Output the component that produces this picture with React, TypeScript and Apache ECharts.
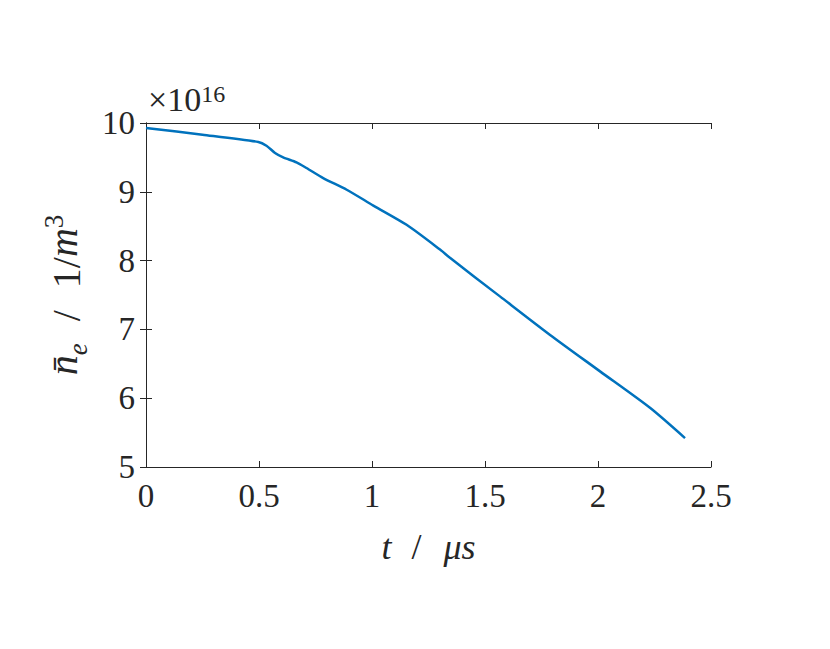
import React, { useEffect, useRef } from "react";
import * as echarts from "echarts";

// time in microseconds
const tValues = [0, 0.25, 0.497, 0.533, 0.571, 0.607, 0.666, 0.71, 0.784, 0.888, 1.006, 1.153, 1.301, 1.345, 1.566, 1.788, 2.009, 2.23, 2.385];
// mean electron density in units of 1e16 m^-3
const nValues = [9.927, 9.83, 9.724, 9.67, 9.564, 9.5, 9.427, 9.346, 9.2, 9.03, 8.8, 8.52, 8.16, 8.04, 7.48, 6.92, 6.39, 5.86, 5.42];
const xTicks = [0, 0.5, 1, 1.5, 2, 2.5];
const yTicks = [5, 6, 7, 8, 9, 10];
const exponentLabel = "16";

const FONT = "'Liberation Serif', 'Times New Roman', 'DejaVu Serif', serif";
const AX = "#262626";

export default function App() {
  const ref = useRef<HTMLDivElement>(null);
  useEffect(() => {
    const chart = echarts.init(ref.current!, null, { renderer: "svg" });
    const data = tValues.map((t, i) => [t, nValues[i]]);
    const axisCommon = {
      axisLine: { show: true, lineStyle: { color: AX, width: 1 } },
      axisTick: { show: true, inside: true, length: 6, lineStyle: { color: AX, width: 1 } },
      splitLine: { show: false },
    };
    chart.setOption({
      animation: false,
      backgroundColor: "#ffffff",
      textStyle: { fontFamily: FONT },
      grid: { left: 146, right: 119, top: 123, bottom: 182, containLabel: false },
      xAxis: [
        {
          type: "value",
          min: 0,
          max: 2.5,
          interval: 0.5,
          ...axisCommon,
          axisLabel: {
            color: AX,
            fontFamily: FONT,
            fontSize: 33,
            margin: 12,
            formatter: (v: number) => (xTicks.includes(v) ? String(v) : ""),
          },
          name: "{i|t}{r|/}{i|μs}",
          nameLocation: "middle",
          nameGap: 62,
          nameTextStyle: {
            color: AX,
            fontFamily: FONT,
            fontSize: 35,
            rich: {
              i: { fontFamily: FONT, fontStyle: "italic", fontSize: 36, color: AX },
              r: { fontFamily: FONT, fontSize: 36, color: AX, padding: [0, 22, 0, 20] },
            },
          },
        },
        {
          type: "value",
          position: "top",
          min: 0,
          max: 2.5,
          interval: 0.5,
          ...axisCommon,
          axisLabel: { show: false },
        },
      ],
      yAxis: [
        {
          type: "value",
          min: 5,
          max: 10,
          interval: 1,
          ...axisCommon,
          axisLabel: {
            color: AX,
            fontFamily: FONT,
            fontSize: 33,
            margin: 11,
            formatter: (v: number) => (yTicks.includes(v) ? String(v) : ""),
          },
          name: "{i|n̄}{sub|e}{r|/}{n|1/}{i|m}{sup|3}",
          nameLocation: "middle",
          nameRotate: 90,
          nameGap: 43,
          nameTextStyle: {
            color: AX,
            fontFamily: FONT,
            fontSize: 40,
            rich: {
              i: { fontFamily: FONT, fontStyle: "italic", fontSize: 40, color: AX, height: 46, verticalAlign: "bottom" },
              sub: { fontFamily: FONT, fontStyle: "italic", fontSize: 27, color: AX, verticalAlign: "bottom", padding: [0, 0, -5, 0] },
              sup: { fontFamily: FONT, fontSize: 27, color: AX, verticalAlign: "top" },
              r: { fontFamily: FONT, fontSize: 40, color: AX, padding: [0, 22, 0, 22], verticalAlign: "bottom" },
              n: { fontFamily: FONT, fontSize: 40, color: AX, verticalAlign: "bottom" },
            },
          },
        },
        {
          type: "value",
          position: "right",
          min: 5,
          max: 10,
          interval: 1,
          ...axisCommon,
          axisLabel: { show: false },
        },
      ],
      graphic: [
        {
          type: "text",
          left: 148,
          top: 82,
          style: {
            text: "{a|×10}{s|" + exponentLabel + "}",
            fontFamily: FONT,
            fontSize: 34,
            fill: AX,
            rich: {
              a: { fontFamily: FONT, fontSize: 34, fill: AX, verticalAlign: "bottom" },
              s: { fontFamily: FONT, fontSize: 24, fill: AX, verticalAlign: "top" },
            },
          },
        },
      ],
      series: [
        {
          type: "line",
          data,
          xAxisIndex: 0,
          yAxisIndex: 0,
          showSymbol: false,
          symbol: "none",
          smooth: 0.25,
          lineStyle: { color: "#0072BD", width: 2.5 },
        },
      ],
    });
    return () => chart.dispose();
  }, []);
  return (
    <div
      ref={ref}
      style={{ position: "fixed", left: 0, top: 0, width: 830, height: 649, background: "#fff" }}
    />
  );
}
